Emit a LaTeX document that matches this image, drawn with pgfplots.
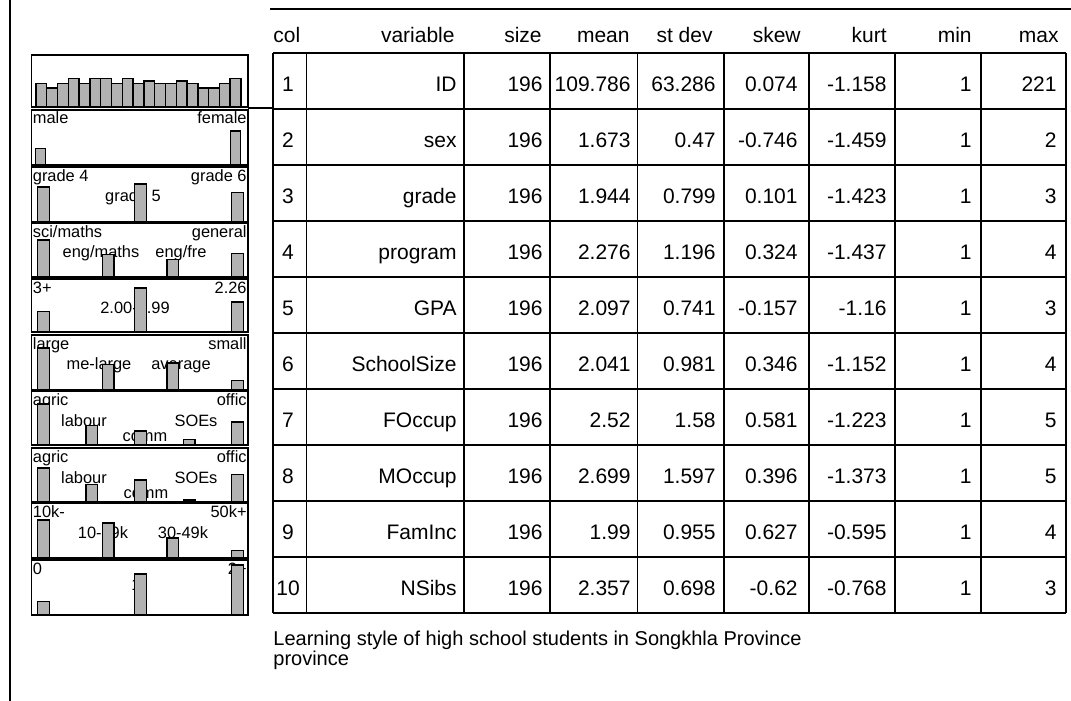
\documentclass[border=0pt]{standalone}
\usepackage{pgfplots}
\pgfplotsset{compat=1.18}
\usepackage{fontspec}
\setmainfont{Liberation Sans}
\pgfplotsset{mini/.style={scale only axis, width=108.25pt, anchor=north west,
  ticks=none, ymin=0, axis line style={line width=0.8pt}, ybar, bar width=5.8pt,
  enlargelimits=false, clip=false}}
\tikzset{bar/.style={fill=gray!60, draw=black, line width=0.7pt}}
\begin{document}
\begin{tikzpicture}
\begin{scope}[x=0.5pt,y=-0.5pt]
\useasboundingbox (0,0) rectangle (1071,701);
\draw[line width=0.8pt] (10,0) -- (10,701);
\draw[line width=0.6pt] (270,9) -- (1071,9);
\foreach \yy in {53,109,...,613} \draw[line width=0.9pt] (273,\yy) -- (1066,\yy);
\foreach \xx in {273,306.5,464,550,637.5,724,809,895,981,1066} \draw[line width=0.9pt] (\xx,53) -- (\xx,613);
\draw[line width=0.8pt] (248,108) -- (273,108);
% header
\begin{scope}[every node/.style={inner sep=0pt, font=\fontsize{10.5}{12}\selectfont}]
\node[anchor=base west] at (273,43) {col};
\node[anchor=base east] at (455,43) {variable};
\node[anchor=base east] at (542,43) {size};
\node[anchor=base east] at (630,43) {mean};
\node[anchor=base east] at (713,43) {st dev};
\node[anchor=base east] at (801,43) {skew};
\node[anchor=base east] at (887,43) {kurt};
\node[anchor=base east] at (972,43) {min};
\node[anchor=base east] at (1059,43) {max};
\foreach \i/\v/\m/\sd/\sk/\ku/\mx in {
 1/ID/109.786/63.286/0.074/-1.158/221,
 2/sex/1.673/0.47/-0.746/-1.459/2,
 3/grade/1.944/0.799/0.101/-1.423/3,
 4/program/2.276/1.196/0.324/-1.437/4,
 5/GPA/2.097/0.741/-0.157/-1.16/3,
 6/SchoolSize/2.041/0.981/0.346/-1.152/4,
 7/FOccup/2.52/1.58/0.581/-1.223/5,
 8/MOccup/2.699/1.597/0.396/-1.373/5,
 9/FamInc/1.99/0.955/0.627/-0.595/4,
 10/NSibs/2.357/0.698/-0.62/-0.768/3}{
  \pgfmathsetmacro\yb{56*\i+35.5}
  \node[anchor=base] at (288,\yb) {\i};
  \node[anchor=base east] at (457,\yb) {\v};
  \node[anchor=base east] at (543,\yb) {196};
  \node[anchor=base east] at (631,\yb) {\m};
  \node[anchor=base east] at (716,\yb) {\sd};
  \node[anchor=base east] at (798,\yb) {\sk};
  \node[anchor=base east] at (887,\yb) {\ku};
  \node[anchor=base east] at (972,\yb) {1};
  \node[anchor=base east] at (1057,\yb) {\mx};
}
\end{scope}
\begin{scope}[every node/.style={inner sep=0pt, font=\fontsize{10}{12}\selectfont}]
\node[anchor=base west] at (273,645) {Learning style of high school students in Songkhla Province};
\node[anchor=base west] at (273,665) {province};
\end{scope}
% mini chart labels
\begin{scope}[every node/.style={inner sep=0pt, font=\fontsize{8.2}{9.6}\selectfont}]
\node[anchor=base west] at (32.5,124) {male};
\node[anchor=base east] at (247,124) {female};
\node[anchor=base west] at (32.5,181) {grade 4};
\node[anchor=base east] at (247,181) {grade 6};
\node[anchor=base] at (133,201) {grade 5};
\node[anchor=base west] at (32.5,237) {sci/maths};
\node[anchor=base east] at (247,237) {general};
\node[anchor=base] at (101,257) {eng/maths};
\node[anchor=base] at (181,257) {eng/fre};
\node[anchor=base west] at (32.5,293) {3+};
\node[anchor=base east] at (247,293) {2.26};
\node[anchor=base] at (135,313) {2.00-2.99};
\node[anchor=base west] at (32.5,349) {large};
\node[anchor=base east] at (247,349) {small};
\node[anchor=base] at (99,369) {me-large};
\node[anchor=base] at (181,369) {average};
\node[anchor=base west] at (32.5,405) {agric};
\node[anchor=base east] at (247,405) {offic};
\node[anchor=base] at (84,426) {labour};
\node[anchor=base] at (196,426) {SOEs};
\node[anchor=base] at (145,441) {comm};
\node[anchor=base west] at (32.5,462) {agric};
\node[anchor=base east] at (247,462) {offic};
\node[anchor=base] at (84,483) {labour};
\node[anchor=base] at (196,483) {SOEs};
\node[anchor=base] at (146,498) {comm};
\node[anchor=base west] at (32.5,517) {10k-};
\node[anchor=base east] at (247,517) {50k+};
\node[anchor=base] at (103,538) {10-29k};
\node[anchor=base] at (183,538) {30-49k};
\node[anchor=base west] at (32.5,574) {0};
\node[anchor=base east] at (247,574) {2+};
\node[anchor=base] at (136,590) {1};
\end{scope}
\end{scope}
% ID
\begin{axis}[mini, at={(15.75pt,-27.5pt)}, height=26pt, xmin=0.0825, xmax=20.15, ymax=22, bar width=5.4pt]
\addplot[bar] coordinates {(1,10) (2,8) (3,10) (4,12) (5,10) (6,12) (7,12) (8,10) (9,12) (10,10) (11,11) (12,10) (13,10) (14,11) (15,10) (16,8) (17,8) (18,10) (19,12)};
\end{axis}
% sex
\begin{axis}[mini, at={(15.75pt,-55pt)}, height=27.5pt, xmin=0.954, xmax=2.064, ymax=213.5, bar width=4.75pt]
\addplot[bar] coordinates {(1,64) (2,132)};
\end{axis}
% grade
\begin{axis}[mini, at={(15.75pt,-83.5pt)}, height=27.5pt, xmin=0.876, xmax=3.108, ymax=105.3]
\addplot[bar] coordinates {(1,67) (2,73) (3,56)};
\end{axis}
% program
\begin{axis}[mini, at={(15.75pt,-111.5pt)}, height=27pt, xmin=0.814, xmax=4.162, ymax=105]
\addplot[bar] coordinates {(1,72) (2,44) (3,34) (4,46)};
\end{axis}
% GPA
\begin{axis}[mini, at={(15.75pt,-139.5pt)}, height=26.5pt, xmin=0.876, xmax=3.108, ymax=109.6]
\addplot[bar] coordinates {(1,43) (2,91) (3,62)};
\end{axis}
% SchoolSize
\begin{axis}[mini, at={(15.75pt,-167.5pt)}, height=27.5pt, xmin=0.814, xmax=4.162, ymax=103.5]
\addplot[bar] coordinates {(1,79) (2,48) (3,51) (4,18)};
\end{axis}
% FOccup
\begin{axis}[mini, at={(15.75pt,-195.5pt)}, height=27pt, xmin=0.753, xmax=5.216, ymax=102.7]
\addplot[bar] coordinates {(1,78) (2,37) (3,27) (4,10) (5,44)};
\end{axis}
% MOccup
\begin{axis}[mini, at={(15.75pt,-224pt)}, height=27pt, xmin=0.753, xmax=5.216, ymax=103.2]
\addplot[bar] coordinates {(1,65) (2,33) (3,42) (4,4) (5,52)};
\end{axis}
% FamInc
\begin{axis}[mini, at={(15.75pt,-251.5pt)}, height=27.5pt, xmin=0.814, xmax=4.162, ymax=107]
\addplot[bar] coordinates {(1,74) (2,68) (3,39) (4,15)};
\end{axis}
% NSibs
\begin{axis}[mini, at={(15.75pt,-280pt)}, height=27.5pt, xmin=0.876, xmax=3.108, ymax=103.4]
\addplot[bar] coordinates {(1,25) (2,77) (3,94)};
\end{axis}
\end{tikzpicture}
\end{document}
